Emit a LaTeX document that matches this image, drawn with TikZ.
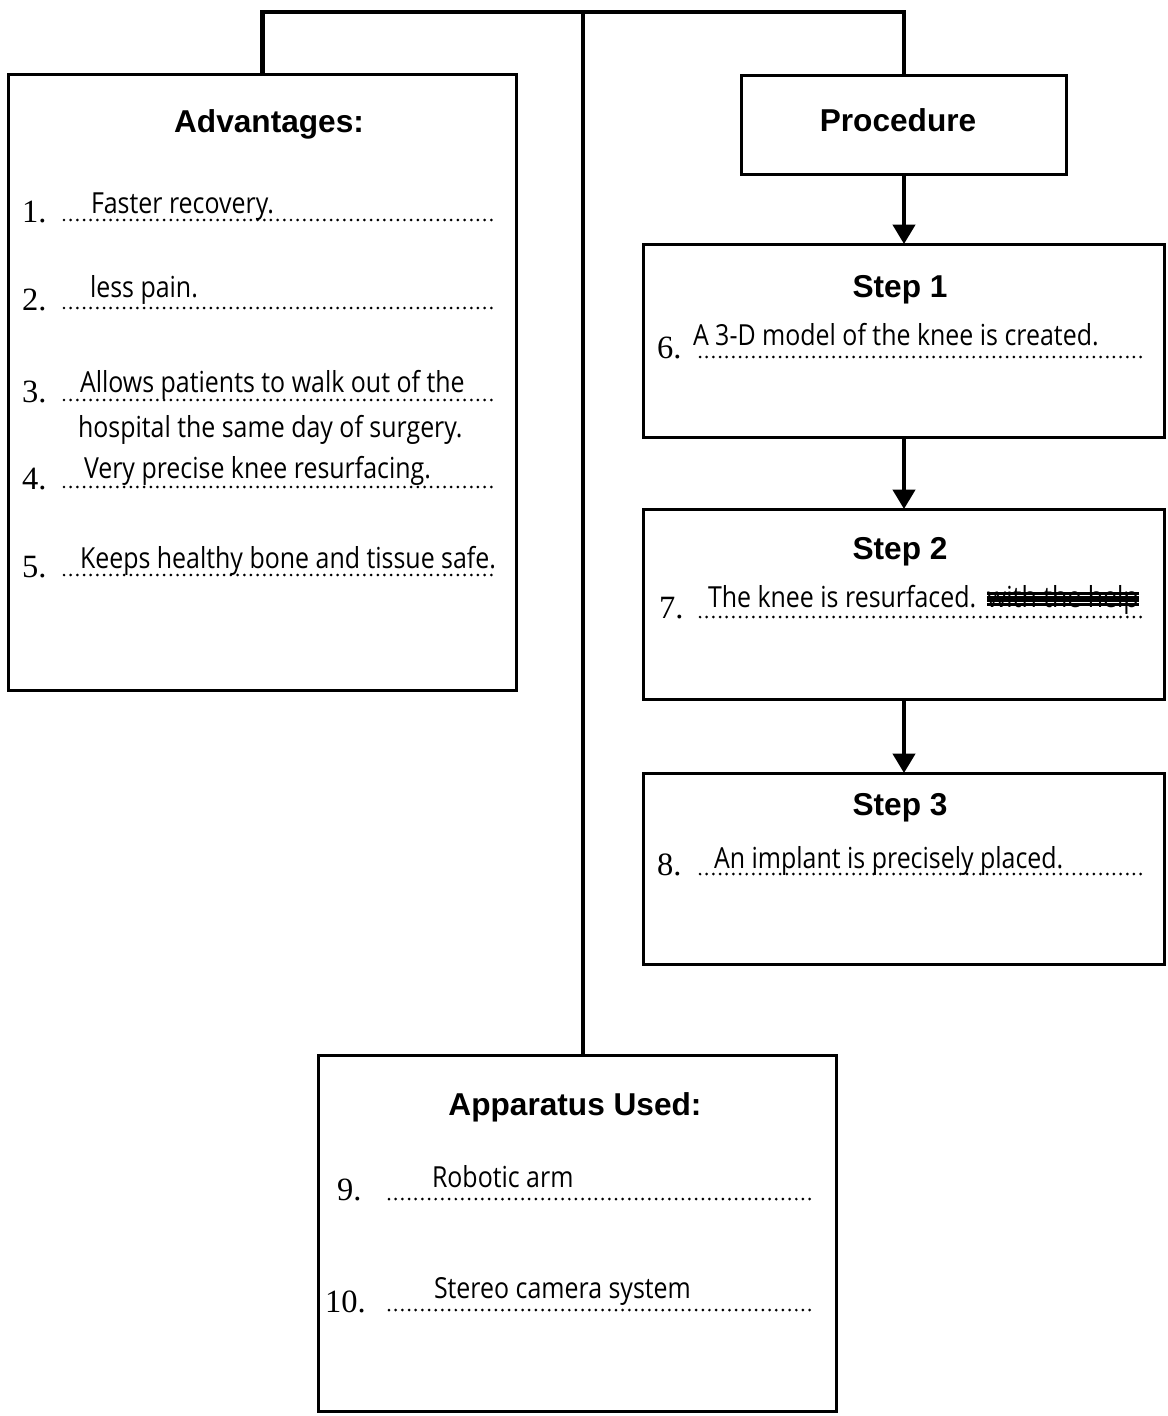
\documentclass[tikz,border=0pt]{standalone}
\usepackage{fontspec}
\setmainfont{Liberation Serif}
\setsansfont{Liberation Sans}
\newfontfamily\hand{Open Sans}[FakeStretch=0.86]
\usetikzlibrary{arrows.meta}

\begin{document}
\begin{tikzpicture}[x=0.02cm, y=-0.02cm,
    every node/.style={inner sep=0pt, outer sep=0pt},
    box/.style={rectangle, draw, line width=1.7pt},
    title/.style={font=\sffamily\bfseries\fontsize{18}{20}\selectfont},
    num/.style={anchor=base west, font=\fontsize{18.5}{20}\selectfont},
    ans/.style={anchor=base west, font=\hand\fontsize{16.5}{18}\selectfont},
    dots/.style={line width=1.7pt, line cap=round, dash pattern=on 0pt off 3.8pt},
    link/.style={line width=2.3pt},
    arrow/.style={line width=2.3pt, -{Triangle[width=12.5pt,length=11pt]}}
  ]
  \useasboundingbox (0,0) rectangle (1168,1416);

  % boxes
  \node[box, minimum width=10.18cm, minimum height=12.34cm] (adv) at (262.5,382.5) {};
  \node[box, minimum width=6.52cm, minimum height=2.0cm] (proc) at (904,125) {};
  \node[box, minimum width=10.44cm, minimum height=3.88cm] (s1) at (904,341) {};
  \node[box, minimum width=10.44cm, minimum height=3.82cm] (s2) at (904,604.5) {};
  \node[box, minimum width=10.44cm, minimum height=3.84cm] (s3) at (904,869) {};
  \node[box, minimum width=10.38cm, minimum height=7.14cm] (app) at (577.5,1233.5) {};

  % titles
  \node[title] (advT) at (269,124) {Advantages:};
  \node[title] (procT) at (898,120) {Procedure};
  \node[title] (s1T) at (900,290) {Step 1};
  \node[title] (s2T) at (900,552) {Step 2};
  \node[title] (s3T) at (900,808) {Step 3};
  \node[title] (appT) at (575,1107) {Apparatus Used:};

  % connectors
  \coordinate (hub) at (583,12);
  \draw[link] (adv.north) |- (hub) -| (proc.north);
  \draw[link] (hub) -- (hub |- app.north);
  \draw[arrow] (proc.south) -- (proc.south |- s1.north);
  \draw[arrow] (s1.south) -- (s2.north);
  \draw[arrow] (s2.south) -- (s3.north);

  % advantages
  \foreach \i/\y in {1/222,2/310,3/402,4/489,5/577}
    \node[num] (n\i) at (22,\y) {\i.};
  \foreach \y in {220,308,400,487,575}
    \draw[dots] (64,\y) -- (497,\y);
  \node[ans] (a1) at (91,213) {Faster recovery.};
  \node[ans] (a2) at (90,297) {less pain.};
  \node[ans] (a3) at (80,392) {Allows patients to walk out of the};
  \node[ans] (a3b) at (78,437) {hospital the same day of surgery.};
  \node[ans] (a4) at (84,478) {Very precise knee resurfacing.};
  \node[ans] (a5) at (80,568) {Keeps healthy bone and tissue safe.};

  % procedure steps
  \node[num] (n6) at (657,358) {6.};
  \node[num] (n7) at (659,618) {7.};
  \node[num] (n8) at (657,875) {8.};
  \foreach \y in {357,617,874}
    \draw[dots] (700,\y) -- (1141,\y);
  \node[ans] (a6) at (693,345) {A 3-D model of the knee is created.};
  \node[ans] (a7) at (708,607) {The knee is resurfaced.};
  \node[ans] (scratch) at (987,607) {with the help};
  \foreach \dy in {1.5,3.5,5.5,7.5}
    \draw[line width=1.6pt] ([yshift=\dy pt]scratch.base west) -- ([yshift=\dy pt]scratch.base east);
  \node[ans] (a8) at (714,868) {An implant is precisely placed.};

  % apparatus
  \node[num] (n9) at (337,1200) {9.};
  \node[num] (n10) at (325,1312) {10.};
  \foreach \y in {1199,1310}
    \draw[dots] (389,\y) -- (814,\y);
  \node[ans] (a9) at (432,1187) {Robotic arm};
  \node[ans] (a10) at (434,1298) {Stereo camera system};
\end{tikzpicture}
\end{document}
